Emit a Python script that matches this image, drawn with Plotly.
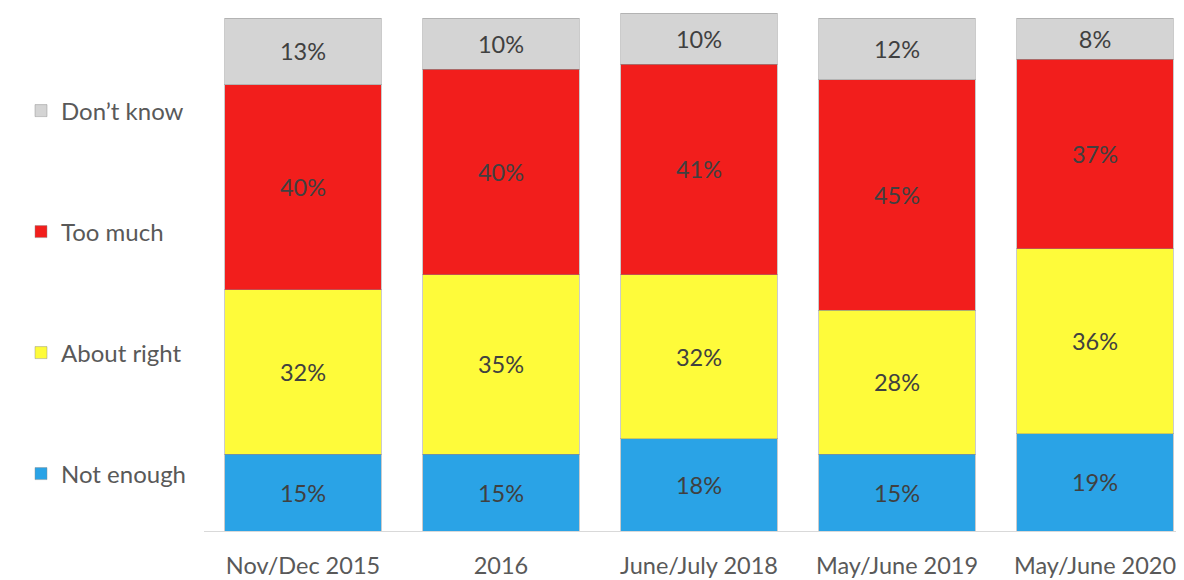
import plotly.graph_objects as go

categories = ["Nov/Dec 2015", "2016", "June/July 2018", "May/June 2019", "May/June 2020"]
not_enough = [15, 15, 18, 15, 19]
about_right = [32, 35, 32, 28, 36]
too_much = [40, 40, 41, 45, 37]
dont_know = [13, 10, 10, 12, 8]

series = [
    ("Not enough", not_enough, "#2AA3E6", "legend4", 474),
    ("About right", about_right, "#FEFB3A", "legend3", 353),
    ("Too much", too_much, "#F21E1C", "legend2", 232),
    ("Don\u2019t know", dont_know, "#D4D4D4", "legend", 111),
]

FONT = "Lato"
OFF = 8  # page body margin
W, H = 1184 - OFF, 580 - OFF

fig = go.Figure()
for name, vals, color, lg, ypix in series:
    fig.add_trace(go.Bar(
        x=categories, y=vals, name=name,
        marker=dict(color=color, line=dict(color="rgba(140,140,140,0.45)", width=1)),
        texttemplate="%{y}%", textposition="inside", insidetextanchor="middle",
        textfont=dict(family=FONT, size=23.5, color="#404040"),
        legend=lg, showlegend=True,
    ))

layout_legends = {}
for name, vals, color, lg, ypix in series:
    layout_legends[lg] = dict(
        xref="container", yref="container",
        x=13 / W, y=1 - (ypix - OFF) / H, yanchor="middle", xanchor="left",
        font=dict(family=FONT, size=24, color="#595959"),
        bgcolor="rgba(0,0,0,0)", itemclick=False, itemdoubleclick=False,
    )

fig.update_layout(
    width=W, height=H,
    barmode="stack", bargap=0.21,
    margin=dict(l=204 - OFF, r=0, t=13 - OFF, b=580 - 531),
    paper_bgcolor="white", plot_bgcolor="white",
    font=dict(family=FONT, color="#595959"),
    uniformtext=dict(minsize=20, mode="show"),
    **layout_legends,
)
fig.update_xaxes(
    range=[-0.5, -0.5 + 980 / 198],
    showline=True, linecolor="#D9D9D9", linewidth=1,
    ticks="outside", ticklen=14, tickcolor="rgba(0,0,0,0)",
    tickfont=dict(family=FONT, size=23.5, color="#595959"),
    showgrid=False, fixedrange=True,
)
fig.update_yaxes(range=[0, 101], visible=False, showgrid=False, fixedrange=True)

fig.write_html("out.html")
